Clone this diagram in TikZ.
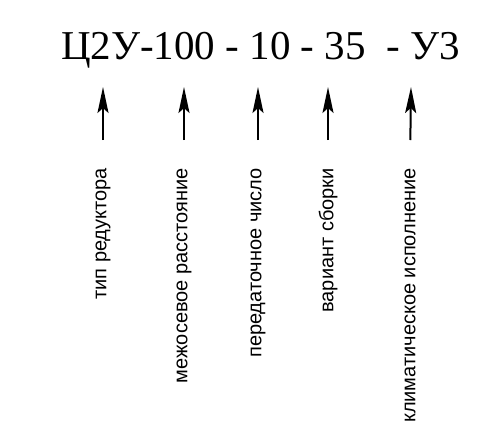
\documentclass[tikz,border=0pt]{standalone}
\usepackage{fontspec}
\setmainfont{Liberation Serif}
\newfontfamily\labelfont{Liberation Sans}
\usetikzlibrary{arrows.meta}

\tikzset{
  caption/.style={font=\labelfont\fontsize{20}{20}\selectfont, rotate=90, anchor=east, inner sep=0pt},
  pointer/.style={line width=2pt, -{Stealth[length=26pt,width=11pt,inset=5pt]}, shorten <=28pt},
}

\begin{document}
\begin{tikzpicture}[x=1pt,y=-1pt]

    % Frame
    \useasboundingbox[fill=white] (0,0) rectangle (500,442);

    % Code
    \node[font=\fontsize{41}{41}\selectfont, anchor=base west, inner sep=0pt] (code) at (61,59) {Ц2У-100 - 10 - 35\ \ - У3};

    % Captions
    \node[caption] (type)    at (103,168) {тип редуктора};
    \node[caption] (axis)    at (184,168) {межосевое расстояние};
    \node[caption] (ratio)   at (258,168) {передаточное число};
    \node[caption] (variant) at (328,168) {вариант сборки};
    \node[caption] (climate) at (410,168) {климатическое исполнение};

    % Arrow tips
    \coordinate (type-t)    at (103,87);
    \coordinate (axis-t)    at (184,87);
    \coordinate (ratio-t)   at (258,87);
    \coordinate (variant-t) at (328,87);
    \coordinate (climate-t) at (411,87);

    % Connect
    \foreach \n in {type,axis,ratio,variant,climate}
      \draw[pointer] (\n.east) -- (\n-t);

\end{tikzpicture}
\end{document}
